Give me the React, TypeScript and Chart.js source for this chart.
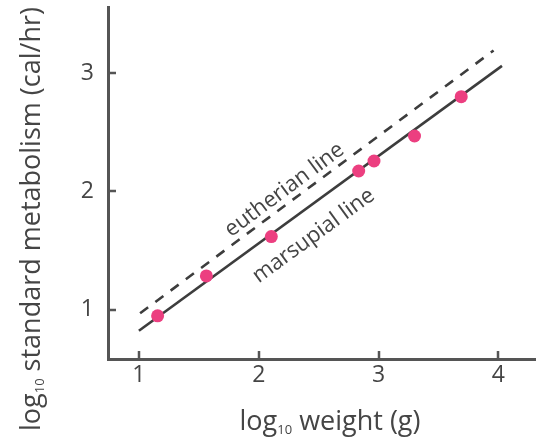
import React, { useEffect, useRef } from 'react';
import { Chart, registerables } from 'chart.js';

Chart.register(...registerables);

// ---- data ----
const xTickValues = [1, 2, 3, 4];
const yTickValues = [1, 2, 3];
const weightLog = [1.156, 1.563, 2.105, 2.834, 2.962, 3.3, 3.69];
const metabolismLog = [0.95, 1.287, 1.619, 2.173, 2.257, 2.468, 2.8];
const marsupialLineX = [1.0, 4.03];
const marsupialLineY = [0.825, 3.06];
const eutherianLineX = [1.01, 3.96];
const eutherianLineY = [0.972, 3.19];
const xRange = [0.742, 4.314];
const yRange = [0.586, 3.557];
const lineLabels = ['eutherian line', 'marsupial line'];
const labelAnchorX = [2.215, 2.458];
const labelAnchorY = [2.013, 1.626];
const xTitleParts = ['log', '10', ' weight (g)'];
const yTitleParts = ['log', '10', ' standard metabolism (cal/hr)'];

const FONT = "'Open Sans', 'Noto Sans', 'DejaVu Sans', sans-serif";
const TEXT = '#454545';
const AXIS = '#555555';
const LINE = '#3d3d3d';
const PINK = '#ec3f80';
const TICK_LEN = 8;

function drawSubText(ctx: CanvasRenderingContext2D, parts: string[], size: number, subSize: number, subShift: number) {
  const main = `${size}px ${FONT}`;
  const sub = `${subSize}px ${FONT}`;
  ctx.font = main;
  const w0 = ctx.measureText(parts[0]).width;
  const w2 = ctx.measureText(parts[2]).width;
  ctx.font = sub;
  const w1 = ctx.measureText(parts[1]).width;
  const total = w0 + w1 + w2;
  let x = -total / 2;
  ctx.textAlign = 'left';
  ctx.textBaseline = 'alphabetic';
  ctx.font = main;
  ctx.fillText(parts[0], x, 0);
  x += w0;
  ctx.font = sub;
  ctx.fillText(parts[1], x, subShift);
  x += w1;
  ctx.font = main;
  ctx.fillText(parts[2], x, 0);
}

const textPlugin = {
  id: 'textPlugin',
  beforeDatasetsDraw(chart: any) {
    // inward tick marks, placed through the scales
    const ctx: CanvasRenderingContext2D = chart.ctx;
    const xs = chart.scales.x;
    const ys = chart.scales.y;
    const area = chart.chartArea;
    ctx.save();
    ctx.strokeStyle = AXIS;
    ctx.lineWidth = 2.5;
    ctx.beginPath();
    xTickValues.forEach((v) => {
      const px = Math.round(xs.getPixelForValue(v));
      ctx.moveTo(px, area.bottom);
      ctx.lineTo(px, area.bottom - TICK_LEN);
    });
    yTickValues.forEach((v) => {
      const py = Math.round(ys.getPixelForValue(v));
      ctx.moveTo(area.left, py);
      ctx.lineTo(area.left + TICK_LEN, py);
    });
    ctx.stroke();
    ctx.restore();
  },
  afterDatasetsDraw(chart: any) {
    const ctx: CanvasRenderingContext2D = chart.ctx;
    const xs = chart.scales.x;
    const ys = chart.scales.y;
    ctx.save();
    ctx.fillStyle = TEXT;
    const lines = [
      [eutherianLineX, eutherianLineY],
      [marsupialLineX, marsupialLineY],
    ];
    lineLabels.forEach((t, i) => {
      const [lx, ly] = lines[i];
      const ang = Math.atan2(
        ys.getPixelForValue(ly[1]) - ys.getPixelForValue(ly[0]),
        xs.getPixelForValue(lx[1]) - xs.getPixelForValue(lx[0])
      );
      ctx.save();
      ctx.translate(xs.getPixelForValue(labelAnchorX[i]), ys.getPixelForValue(labelAnchorY[i]));
      ctx.rotate(ang);
      ctx.font = `22px ${FONT}`;
      ctx.textAlign = 'center';
      ctx.textBaseline = 'middle';
      ctx.fillText(t, 0, 0);
      ctx.restore();
    });
    // x title
    ctx.save();
    ctx.translate(330, 430);
    drawSubText(ctx, xTitleParts, 27, 13, 4);
    ctx.restore();
    // y title
    ctx.save();
    ctx.translate(40, 219);
    ctx.rotate(-Math.PI / 2);
    drawSubText(ctx, yTitleParts, 27, 13, 4);
    ctx.restore();
    ctx.restore();
  },
};

function zeroPad(s: any) {
  s.paddingTop = 0;
  s.paddingBottom = 0;
  s.paddingLeft = 0;
  s.paddingRight = 0;
}

export default function App() {
  const ref = useRef<HTMLCanvasElement | null>(null);
  useEffect(() => {
    document.body.style.margin = '0';
    if (!ref.current) return;
    const chart = new Chart(ref.current, {
      type: 'scatter',
      data: {
        datasets: [
          {
            label: 'species',
            data: weightLog.map((x, i) => ({ x, y: metabolismLog[i] })),
            backgroundColor: PINK,
            borderColor: PINK,
            pointRadius: 6.5,
            pointBorderWidth: 0,
            showLine: false,
          },
          {
            label: 'marsupial line',
            data: marsupialLineX.map((x, i) => ({ x, y: marsupialLineY[i] })),
            borderColor: LINE,
            borderWidth: 2.6,
            pointRadius: 0,
            showLine: true,
          },
          {
            label: 'eutherian line',
            data: eutherianLineX.map((x, i) => ({ x, y: eutherianLineY[i] })),
            borderColor: LINE,
            borderWidth: 2.6,
            borderDash: [10, 9],
            pointRadius: 0,
            showLine: true,
          },
        ],
      },
      options: {
        animation: false,
        responsive: false,
        maintainAspectRatio: false,
        layout: { autoPadding: false, padding: { top: 7, right: 0, left: 0, bottom: 0 } },
        plugins: { legend: { display: false }, tooltip: { enabled: false } },
        scales: {
          x: {
            type: 'linear',
            position: 'bottom',
            min: xRange[0],
            max: xRange[1],
            afterFit: (s: any) => { s.height = 81; zeroPad(s); },
            afterBuildTicks: (s: any) => { s.ticks = xTickValues.map((v) => ({ value: v })); },
            grid: { display: false, drawOnChartArea: false, drawTicks: false },
            border: { display: true, color: AXIS, width: 3 },
            ticks: { color: TEXT, font: { family: FONT, size: 23 }, padding: 3, maxRotation: 0 },
          },
          y: {
            type: 'linear',
            position: 'left',
            min: yRange[0],
            max: yRange[1],
            afterFit: (s: any) => { s.width = 108; zeroPad(s); },
            afterBuildTicks: (s: any) => { s.ticks = yTickValues.map((v) => ({ value: v })); },
            grid: { display: false, drawOnChartArea: false, drawTicks: false },
            border: { display: true, color: AXIS, width: 3 },
            ticks: { color: TEXT, font: { family: FONT, size: 23 }, padding: 14 },
          },
        },
      },
      plugins: [textPlugin],
    });
    return () => chart.destroy();
  }, []);
  return (
    <div style={{ width: 536, height: 440 }}>
      <canvas ref={ref} width={536} height={440} />
    </div>
  );
}
